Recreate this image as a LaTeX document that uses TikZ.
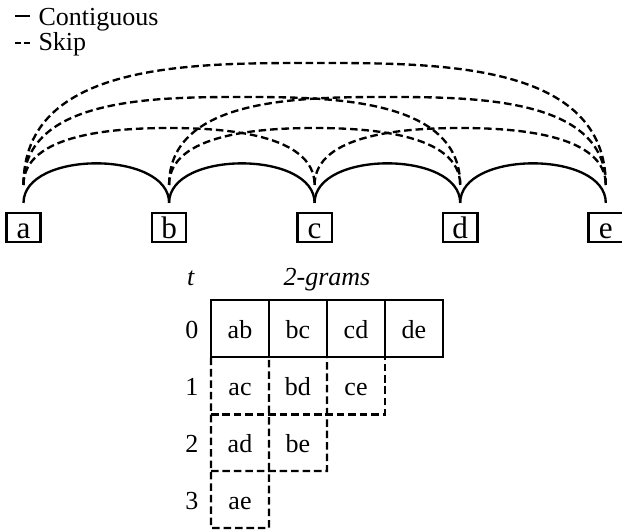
\documentclass[tikz,border=0pt]{standalone}
\usepackage{fontspec}
\setmainfont{Liberation Serif}
\usepackage{tikz}

\begin{document}
\begin{tikzpicture}[x=0.3846pt, y=-0.3846pt]
			\tikzstyle{Token}	= [rectangle, draw, line width=0.9pt, minimum width=13.2pt, minimum height=11.2pt, inner sep=0pt, outer ysep=3.85pt, text height=8.1pt, text depth=0pt, font=\large]
			\tikzstyle{Cell}	= [rectangle, minimum width=22.3pt, minimum height=21.9pt, inner sep=0pt, outer sep=0pt, text height=0.75em, text depth=0pt]
			\tikzstyle{Legend}	= [anchor=base west, inner sep=0pt]
			\tikzstyle{Contig}	= [line width=0.9pt]
			\tikzstyle{Skip}	= [line width=0.9pt, dash pattern=on 2.9pt off 1.5pt]

			\useasboundingbox (0,0) rectangle (622,530);

			% legend
			\node (lc) at (38,25) [Legend] {Contiguous};
			\node (ls) at (38,50) [Legend] {Skip};
			\draw [Contig] ([xshift=-3pt,yshift=1.2pt]lc.west) -- ++(-15,0);
			\draw [line width=0.9pt, dash pattern=on 2.3pt off 1.2pt] ([xshift=-3pt,yshift=0.3pt]ls.west) -- ++(-15,0);

			% tokens
			\node (a) at (23.5,227.5) [Token] {a};
			\node (b) at (169.1,227.5) [Token] {b};
			\node (c) at (314.6,227.5) [Token] {c};
			\node (d) at (460.2,227.5) [Token] {d};
			\node (e) at (605.8,227.5) [Token] {e};

			\coordinate (pk-ac) at (169.1,128);
			\coordinate (pk-bd) at (314.6,128);
			\coordinate (pk-ce) at (460.2,128);
			\coordinate (pk-ad) at (241.8,97);
			\coordinate (pk-be) at (387.4,97);
			\coordinate (pk-ae) at (314.6,63);

			\draw [-] (a.north) to [out=90,in=90,looseness=0.93] (b.north) [Contig];
			\draw [-] (b.north) to [out=90,in=90,looseness=0.93] (c.north) [Contig];
			\draw [-] (c.north) to [out=90,in=90,looseness=0.93] (d.north) [Contig];
			\draw [-] (d.north) to [out=90,in=90,looseness=0.93] (e.north) [Contig];

			\draw [-] ([yshift=6.9pt]a.north) to [out=90,in=180,looseness=0.85] (pk-ac) to [out=0,in=90,looseness=0.85] ([yshift=6.9pt]c.north) [Skip];
			\draw [-] ([yshift=6.9pt]b.north) to [out=90,in=180,looseness=0.85] (pk-bd) to [out=0,in=90,looseness=0.85] ([yshift=6.9pt]d.north) [Skip];
			\draw [-] ([yshift=6.9pt]c.north) to [out=90,in=180,looseness=0.85] (pk-ce) to [out=0,in=90,looseness=0.85] ([yshift=6.9pt]e.north) [Skip];
			\draw [-] ([yshift=6.9pt]a.north) to [out=90,in=180,looseness=0.95] (pk-ad) to [out=0,in=90,looseness=0.95] ([yshift=6.9pt]d.north) [Skip];
			\draw [-] ([yshift=6.9pt]b.north) to [out=90,in=180,looseness=0.95] (pk-be) to [out=0,in=90,looseness=0.95] ([yshift=6.9pt]e.north) [Skip];
			\draw [-] ([yshift=6.9pt]a.north) to [out=90,in=180] (pk-ae) to [out=0,in=90] ([yshift=6.9pt]e.north) [Skip];

			% 2-gram table
			\node (t) at (191,285) [anchor=base] {\textit{t}};
			\node (grams) at (327,285) [anchor=base] {\textit{2-grams}};

			\node (r0) at (192,328.5) [Cell] {0};
			\node (r1) at (192,386) [Cell] {1};
			\node (r2) at (192,442.5) [Cell] {2};
			\node (r3) at (192,499.5) [Cell] {3};

			\node (ab) at (240,328.5) [Cell] {ab};
			\node (bc) at (298,328.5) [Cell] {bc};
			\node (cd) at (356,328.5) [Cell] {cd};
			\node (de) at (414,328.5) [Cell] {de};
			\node (ac) at (240,386) [Cell] {ac};
			\node (bd) at (298,386) [Cell] {bd};
			\node (ce) at (356,386) [Cell] {ce};
			\node (ad) at (240,442.5) [Cell] {ad};
			\node (be) at (298,442.5) [Cell] {be};
			\node (ae) at (240,499.5) [Cell] {ae};

			\draw [Contig] (ab.north west) rectangle (de.south east);
			\draw [Contig] (ab.north east) -- (ab.south east);
			\draw [Contig] (bc.north east) -- (bc.south east);
			\draw [Contig] (cd.north east) -- (cd.south east);

			\draw [Skip] (ac.north west) -- (ae.south west) -- (ae.south east) -- (bd.north west);
			\draw [Skip] (ad.south west) -- (be.south east) -- (ce.north west);
			\draw [Skip] (ac.south west) -- (ce.south east) -- (ce.north east);
		\end{tikzpicture}
\end{document}
